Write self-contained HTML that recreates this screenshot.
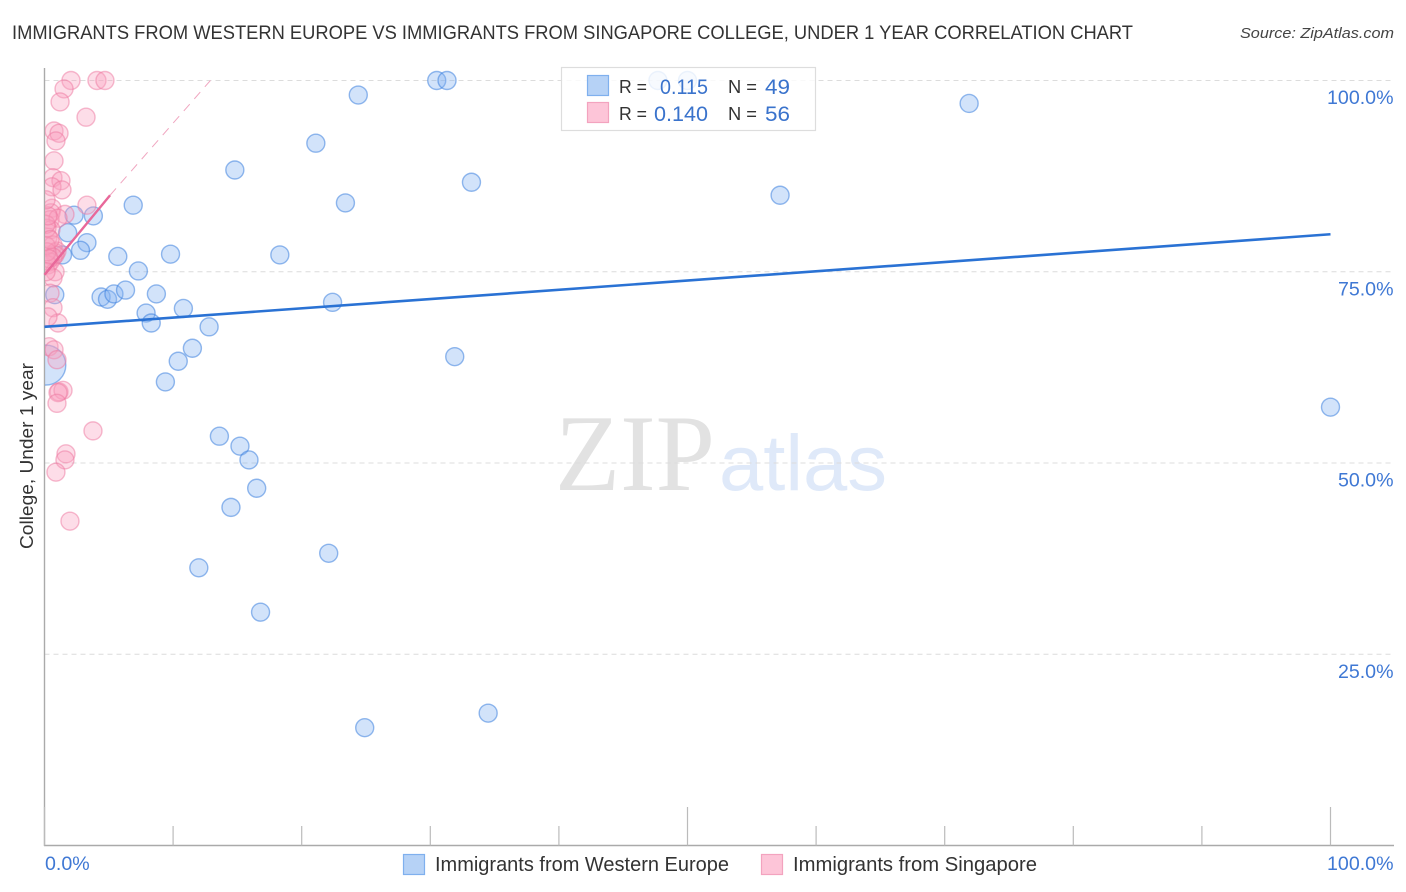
<!DOCTYPE html>
<html lang="en">
<head>
<meta charset="utf-8">
<title>College, Under 1 Year Correlation Chart</title>
<style>
html,body{margin:0;padding:0;background:#fff;}
svg{display:block;font-family:"Liberation Sans",sans-serif;}
</style>
</head>
<body>
<svg id="chart" xmlns="http://www.w3.org/2000/svg" width="1406" height="892" viewBox="0 0 1406 892">
  <defs><clipPath id="plot-clip"><rect x="45" y="60" width="1350" height="785"/></clipPath></defs>
  <text x="12" y="39" font-size="19" fill="#333" textLength="1121" lengthAdjust="spacingAndGlyphs">IMMIGRANTS FROM WESTERN EUROPE VS IMMIGRANTS FROM SINGAPORE COLLEGE, UNDER 1 YEAR CORRELATION CHART</text>
  <text x="1394" y="38" font-size="15" font-style="italic" fill="#444" text-anchor="end" textLength="154" lengthAdjust="spacingAndGlyphs">Source: ZipAtlas.com</text>
  <text x="555" y="490" font-family="'Liberation Serif',serif" font-size="109" fill="#e2e2e2" textLength="160" lengthAdjust="spacingAndGlyphs">ZIP</text>
  <text x="719" y="490" font-size="79" fill="#dfe9f9" textLength="168" lengthAdjust="spacingAndGlyphs">atlas</text>
  <g id="grid"></g>
  <g id="axes"></g>
  <g id="blue-points" clip-path="url(#plot-clip)"></g>
  <g id="pink-points" clip-path="url(#plot-clip)"></g>
  <g id="trends"></g>
  <text transform="translate(33,549) rotate(-90)" font-size="18" fill="#333" textLength="186" lengthAdjust="spacingAndGlyphs">College, Under 1 year</text>

  <g>
    <rect x="561.5" y="67.5" width="254" height="63" fill="#fff" fill-opacity="0.82" stroke="#ddd" stroke-width="1.2"/>
    <rect x="587.5" y="75.5" width="21" height="20" fill="#b6d2f6" stroke="#7fb0ee" stroke-width="1.2"/>
    <rect x="587.5" y="102.5" width="21" height="20" fill="#fdc5d8" stroke="#f3a3bf" stroke-width="1.2"/>
    <text x="619" y="93" font-size="18" fill="#333" textLength="28" lengthAdjust="spacingAndGlyphs">R =</text>
    <text x="660" y="94" font-size="21" fill="#3a73cc" textLength="48" lengthAdjust="spacingAndGlyphs">0.115</text>
    <text x="728" y="93" font-size="18" fill="#333" textLength="29" lengthAdjust="spacingAndGlyphs">N =</text>
    <text x="765" y="94" font-size="21" fill="#3a73cc" textLength="25" lengthAdjust="spacingAndGlyphs">49</text>
    <text x="619" y="120" font-size="18" fill="#333" textLength="28" lengthAdjust="spacingAndGlyphs">R =</text>
    <text x="654" y="121" font-size="21" fill="#3a73cc" textLength="54" lengthAdjust="spacingAndGlyphs">0.140</text>
    <text x="728" y="120" font-size="18" fill="#333" textLength="29" lengthAdjust="spacingAndGlyphs">N =</text>
    <text x="765" y="121" font-size="21" fill="#3a73cc" textLength="25" lengthAdjust="spacingAndGlyphs">56</text>
  </g>

  <g>
    <g>
      <rect x="403.5" y="854.5" width="21" height="20" fill="#b6d2f6" stroke="#7fb0ee" stroke-width="1.2"/>
      <text x="435" y="871" font-size="20" fill="#333" textLength="294" lengthAdjust="spacingAndGlyphs">Immigrants from Western Europe</text>
    </g>
    <g>
      <rect x="761.5" y="854.5" width="21" height="20" fill="#fdc5d8" stroke="#f3a3bf" stroke-width="1.2"/>
      <text x="793" y="871" font-size="20" fill="#333" textLength="244" lengthAdjust="spacingAndGlyphs">Immigrants from Singapore</text>
    </g>
  </g>
</svg>
<script>
// ---- chart data (percent values) ----
const xTickValues = [0, 10, 20, 30, 40, 50, 60, 70, 80, 90, 100];
const xMajorTicks = [0, 50, 100];
const xEndLabels = ["0.0%", "100.0%"];
const xEndValues = [0, 100];
const yGridValues = [100, 75, 50, 25];
const yTickLabels = ["100.0%", "75.0%", "50.0%", "25.0%"];

const blueX = [30.5,31.3,47.7,50.0,24.4,71.9,21.1,14.8,33.2,57.2,23.4,6.9,3.8,2.3,1.8,3.3,2.8,1.4,5.7,9.8,18.3,7.3,0.8,4.4,4.9,5.4,6.3,8.7,22.4,10.8,7.9,8.3,12.8,11.5,10.4,31.9,9.4,0.1,100,13.6,15.2,15.9,16.5,14.5,22.1,12.0,16.8,34.5,24.9];
const blueY = [100,100,100,100,98.1,97.0,91.8,88.3,86.7,85.0,84.0,83.7,82.3,82.4,80.1,78.8,77.8,77.2,77.0,77.3,77.2,75.1,72.0,71.7,71.4,72.1,72.6,72.1,71.0,70.2,69.6,68.3,67.8,65.0,63.3,63.9,60.6,62.8,57.3,53.5,52.2,50.4,46.7,44.2,38.2,36.3,30.5,17.3,15.4];
const blueLargeIndex = 37;

const pinkX = [2.06,4.08,4.70,1.52,1.21,3.23,0.74,1.13,0.89,0.74,0.66,1.28,0.58,1.36,3.30,0.58,1.59,0.50,0.43,1.05,0.50,0.27,0.66,0.82,0.97,0.82,0.66,0.27,0.43,0.82,0.66,0.43,0.66,1.05,0.27,0.35,0.74,0.97,1.13,1.44,1.05,0.97,3.77,1.67,1.59,0.89,1.98,0.19,0.12,0.27,0.12,0.19,0.35,0.12,0.43,0.12];
const pinkY = [100,100,100,98.9,97.2,95.2,93.4,93.1,92.1,89.5,87.3,86.9,86.1,85.7,83.7,83.3,82.5,82.7,81.8,82.0,80.5,79.5,78.5,77.5,77.7,77.2,76.9,75.9,76.3,75.0,74.2,72.2,70.3,68.3,69.1,65.2,64.8,63.5,59.3,59.5,59.2,57.8,54.2,51.2,50.4,48.8,42.4,80.7,81.2,82.3,78.4,77.6,76.7,75.0,79.2,84.4];

const blueTrendX = [0, 100];
const blueTrendY = [67.8, 79.9];
const pinkSolidX = [0, 5.1];
const pinkSolidY = [74.6, 85.0];
const pinkDashedX = [5.1, 12.9];
const pinkDashedY = [85.0, 100];

// ---- axis functions ----
function xScale(v) { return 44.5 + v * 12.86; }
function yScale(v) { return 845.5 - v * 7.65; }

const SVGNS = "http://www.w3.org/2000/svg";
function make(tag, parent, attrs) {
  const el = document.createElementNS(SVGNS, tag);
  for (const k in attrs) el.setAttribute(k, attrs[k]);
  document.getElementById(parent).appendChild(el);
  return el;
}

// gridlines + y labels
yGridValues.forEach(function (v, i) {
  const line = make("line", "grid", {
    x1: 44.5, x2: 1393, y1: yScale(v), y2: yScale(v),
    stroke: "#dcdcdc", "stroke-width": 1, "stroke-dasharray": "5 4"
  });
  
  
  const label = make("text", "axes", {
    x: 1393.5, y: yScale(v) + 23.5, "font-size": 19.6, fill: "#3f78d4", "text-anchor": "end"
  });
  label.textContent = yTickLabels[i];
  
  
});

// axes
const yAxis = make("line", "axes", { x1: 44.5, x2: 44.5, y1: 68, y2: 846, stroke: "#aaa", "stroke-width": 1.4 });


const xAxis = make("line", "axes", { x1: 44, x2: 1394, y1: 845.5, y2: 845.5, stroke: "#aaa", "stroke-width": 1.4 });



xTickValues.forEach(function (v) {
  const major = xMajorTicks.indexOf(v) >= 0;
  const tick = make("line", "axes", {
    x1: xScale(v), x2: xScale(v), y1: major ? 807 : 826, y2: 845.5, stroke: "#bbb", "stroke-width": 1.2
  });
  
  
});

xEndLabels.forEach(function (t, i) {
  const lab = make("text", "axes", {
    x: i === 0 ? xScale(xEndValues[i]) + 0.5 : xScale(xEndValues[i]) + 63,
    y: 870, "font-size": 19.6, fill: "#3f78d4", "text-anchor": i === 0 ? "start" : "end"
  });
  lab.textContent = t;
  
  
});

// points
blueX.forEach(function (v, i) {
  const c = make("circle", "blue-points", {
    cx: xScale(v), cy: yScale(blueY[i]), r: i === blueLargeIndex ? 20 : 9,
    fill: "rgba(130,178,240,0.36)", stroke: "rgba(62,130,222,0.55)", "stroke-width": 1.4
  });
  
  
});
pinkX.forEach(function (v, i) {
  const c = make("circle", "pink-points", {
    cx: xScale(v), cy: yScale(pinkY[i]), r: 9,
    fill: "rgba(250,160,190,0.36)", stroke: "rgba(238,120,160,0.50)", "stroke-width": 1.4
  });
  
  
});

// trend lines
const blueTrend = make("line", "trends", {
  x1: xScale(blueTrendX[0]), y1: yScale(blueTrendY[0]), x2: xScale(blueTrendX[1]), y2: yScale(blueTrendY[1]),
  stroke: "#2a72d4", "stroke-width": 2.6
});


const pinkSolid = make("line", "trends", {
  x1: xScale(pinkSolidX[0]), y1: yScale(pinkSolidY[0]), x2: xScale(pinkSolidX[1]), y2: yScale(pinkSolidY[1]),
  stroke: "#e8689a", "stroke-width": 2.4
});


const pinkDashed = make("line", "trends", {
  x1: xScale(pinkDashedX[0]), y1: yScale(pinkDashedY[0]), x2: xScale(pinkDashedX[1]), y2: yScale(pinkDashedY[1]),
  stroke: "#f0a6c0", "stroke-width": 1, "stroke-dasharray": "9 7"
});


</script>
</body>
</html>
